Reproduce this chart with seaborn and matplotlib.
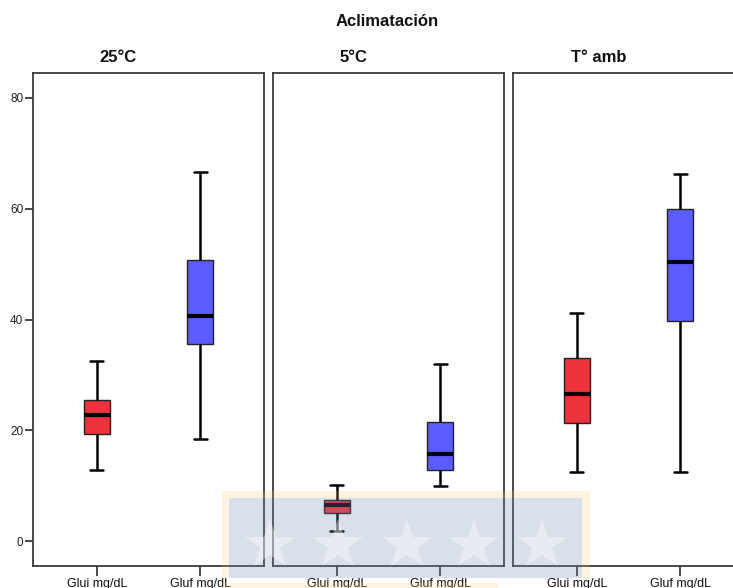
import numpy as np
import pandas as pd
import seaborn as sns
import matplotlib.pyplot as plt
from matplotlib.patches import Rectangle
from matplotlib.lines import Line2D

# Five-number summaries (min, Q1, median, Q3, max) per acclimation group
groups = ["25°C", "5°C", "T° amb"]
variables = ["Glui mg/dL", "Gluf mg/dL"]
glui_stats = [
    [12.8, 19.4, 22.7, 25.5, 32.5],
    [1.9, 5.1, 6.5, 7.4, 10.1],
    [12.5, 21.4, 26.5, 33.1, 41.1],
]
gluf_stats = [
    [18.4, 35.6, 40.6, 50.8, 66.6],
    [10.0, 12.8, 15.7, 21.5, 32.0],
    [12.5, 39.8, 50.3, 60.0, 66.2],
]
y_ticks = [0, 20, 40, 60, 80]

rows = []
for g, s_i, s_f in zip(groups, glui_stats, gluf_stats):
    for v in s_i:
        rows.append((g, variables[0], v))
    for v in s_f:
        rows.append((g, variables[1], v))
df = pd.DataFrame(rows, columns=["Aclimatación", "variable", "valor"])

sns.set_theme(style="white")
plt.rcParams["font.family"] = ["Liberation Sans", "DejaVu Sans"]

W, H = 733, 588
fig = plt.figure(figsize=(W / 100, H / 100), dpi=100)
fig.patch.set_facecolor("white")

palette = {variables[0]: "#EE323B", variables[1]: "#5A5CFF"}
panel_left = [33, 273, 513]
panel_w, panel_top, panel_bot = 231, 73, 566
title_x = [118, 353, 599]

for i, g in enumerate(groups):
    ax = fig.add_axes([panel_left[i] / W, (H - panel_bot) / H,
                       panel_w / W, (panel_bot - panel_top) / H])
    sub = df[df["Aclimatación"] == g]
    sns.boxplot(data=sub, x="variable", y="valor", hue="variable",
                order=variables, hue_order=variables, palette=palette,
                whis=(0, 100), width=0.25, legend=False, saturation=1,
                linecolor="#222222", linewidth=1.0,
                medianprops={"color": "black", "linewidth": 3},
                whiskerprops={"color": "black", "linewidth": 1.8},
                capprops={"color": "black", "linewidth": 1.8},
                ax=ax)
    ax.set_xlim(-0.62, 1.62)
    ax.set_ylim(-4.5, 84.5)
    ax.set_xlabel("")
    ax.set_ylabel("")
    for sp in ax.spines.values():
        sp.set_visible(True)
        sp.set_color("#3a3a3a")
        sp.set_linewidth(1.3)
    ax.tick_params(axis="x", bottom=True, length=7, width=1.3, color="#3a3a3a",
                   labelsize=9, pad=2, labelcolor="#111111")
    if i == 0:
        ax.set_yticks(y_ticks)
        ax.tick_params(axis="y", left=True, length=6, width=1.3, color="#3a3a3a",
                       labelsize=8.5, pad=1, labelcolor="#222222")
    else:
        ax.set_yticks([])
    ax.grid(False)
    fig.text(title_x[i] / W, 1 - 58 / H, g, ha="center", va="center",
             fontsize=12, fontweight="bold", color="#111111")

fig.text(387 / W, 1 - 22 / H, "Aclimatación", ha="center", va="center",
         fontsize=12, fontweight="bold", color="#111111")

# Translucent emblem overlay at the bottom of the page
def px_rect(x0, y0, x1, y1, **kw):
    fig.add_artist(Rectangle((x0 / W, 1 - y1 / H), (x1 - x0) / W, (y1 - y0) / H,
                             transform=fig.transFigure, zorder=20, **kw))

gold = dict(facecolor="#F5C35A", alpha=0.2, edgecolor="none")
px_rect(222, 491, 590, 498, **gold)      # top strip
px_rect(222, 498, 229, 578, **gold)      # left strip
px_rect(582, 498, 590, 578, **gold)      # right strip
px_rect(222, 583, 498, 590, **gold)      # lower band
px_rect(229, 498, 582, 578, facecolor="#7890B5", alpha=0.27, edgecolor="none")
for sx in [270, 338, 407, 474, 542]:
    fig.add_artist(Line2D([sx / W], [1 - 545 / H], marker="*", markersize=38,
                          color="white", markeredgewidth=0, alpha=0.4,
                          transform=fig.transFigure, zorder=21))

fig.savefig("out.png", dpi=100)
